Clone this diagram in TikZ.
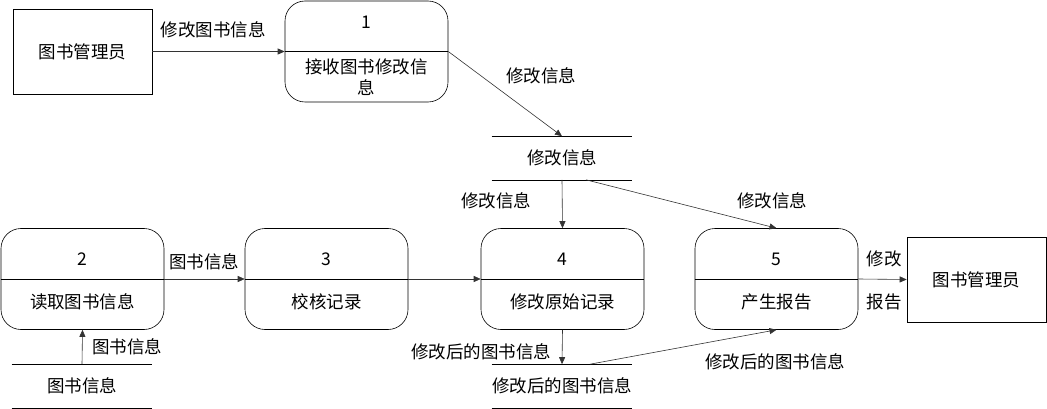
\documentclass[tikz,border=0pt]{standalone}
\usepackage{fontspec}
\setmainfont{Noto Sans CJK SC}
\usetikzlibrary{arrows.meta,positioning,calc}

\begin{document}
\begin{tikzpicture}[
    x=1pt, y=-1pt,
    font=\fontsize{17.5}{20.5}\selectfont,
    line width=0.6pt,
    entity/.style={draw, minimum width=139pt, minimum height=85pt, inner sep=0pt},
    proc/.style={draw, rounded corners=20pt, minimum width=163pt, minimum height=101pt, inner sep=0pt},
    store/.style={minimum width=140pt, minimum height=43pt, inner sep=0pt},
    arrow/.style={-{Triangle[length=7pt,width=6pt]}, draw=black!80}
  ]
    \useasboundingbox (0,0) rectangle (1047,409);
    % external entities
    \node[entity] (lib1) at (82.5,51.5) {图书管理员};
    \node[entity] (lib2) at (976.5,279.5) {图书管理员};
    % processes
    \node[proc] (p1) at (366.5,51.5) {};
    \draw (p1.west) -- (p1.east);
    \node (n1) at (366.5,22) {1};
    \node[align=center] (t1) at (366.5,77) {接收图书修改信\\息};
    \node[proc] (p2) at (82.5,279) {};
    \draw (p2.west) -- (p2.east);
    \node (n2) at (82.5,259) {2};
    \node (t2) at (82.5,302) {读取图书信息};
    \node[proc] (p3) at (326.5,279) {};
    \draw (p3.west) -- (p3.east);
    \node (n3) at (326.5,259) {3};
    \node (t3) at (326.5,302) {校核记录};
    \node[proc] (p4) at (562.5,279) {};
    \draw (p4.west) -- (p4.east);
    \node (n4) at (562.5,259) {4};
    \node (t4) at (562.5,302) {修改原始记录};
    \node[proc] (p5) at (776.5,279) {};
    \draw (p5.west) -- (p5.east);
    \node (n5) at (776.5,259) {5};
    \node (t5) at (776.5,302) {产生报告};
    % data stores
    \node[store] (ds1) at (562,158) {修改信息};
    \draw (ds1.north west) -- (ds1.north east);
    \draw (ds1.south west) -- (ds1.south east);
    \node[store] (ds0) at (82,386) {图书信息};
    \draw (ds0.north west) -- (ds0.north east);
    \draw (ds0.south west) -- (ds0.south east);
    \node[store] (ds2) at (562,386) {修改后的图书信息};
    \draw (ds2.north west) -- (ds2.north east);
    \draw (ds2.south west) -- (ds2.south east);
    % flows
    \draw[arrow] (lib1.east) -- (p1.west);
    \draw[arrow] (p1.east) -- (ds1.north);
    \draw[arrow] (ds1.south) -- (p4.north);
    \draw[arrow] ($(ds1.south)+(24,0)$) -- (p5.north);
    \draw[arrow] (p2.east) -- (p3.west);
    \draw[arrow] (p3.east) -- (p4.west);
    \draw[arrow] (p5.east) -- (lib2.west);
    \draw[arrow] (ds0.north) -- (p2.south);
    \draw[arrow] (p4.south) -- (ds2.north);
    \draw[arrow] ($(ds2.north)+(28,0)$) -- (p5.south);
    % flow labels
    \node (f1) at (213,30) {修改图书信息};
    \node (f2) at (541,76) {修改信息};
    \node (f3) at (496,201) {修改信息};
    \node (f4) at (772,201) {修改信息};
    \node (f5) at (204,262) {图书信息};
    \node (f6) at (884,259) {修改};
    \node (f7) at (884,302) {报告};
    \node (f8) at (127,347) {图书信息};
    \node (f9) at (481,352) {修改后的图书信息};
    \node (f10) at (775,362) {修改后的图书信息};
\end{tikzpicture}
\end{document}
